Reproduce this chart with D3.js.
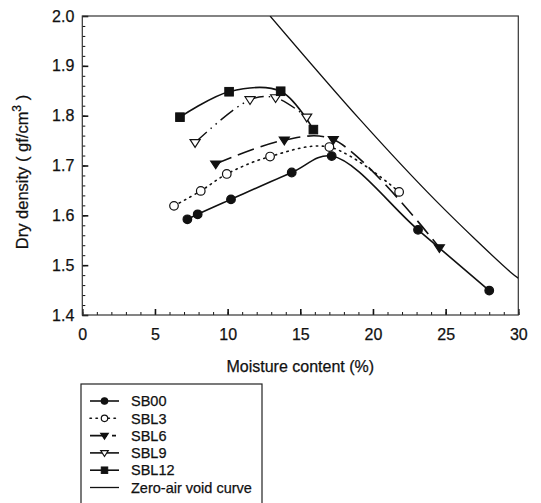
<!DOCTYPE html>
<html><head><meta charset="utf-8">
<script src="https://cdn.jsdelivr.net/npm/d3@7"></script>
<style>
body{margin:0;background:#fff}
svg{display:block;background:#fff}
text{font-family:"Liberation Sans",Arial,Helvetica,sans-serif;fill:#111;stroke:#111;stroke-width:0.25}
</style>
</head><body>
<svg id="c" width="541" height="503"></svg>
<script>
// ---- data ----
const moistureSB00 = [7.23, 7.94, 10.23, 14.41, 17.16, 23.1, 28.0];
const densitySB00  = [1.592, 1.602, 1.632, 1.686, 1.719, 1.571, 1.449];

const moistureSBL3 = [6.31, 8.15, 9.94, 12.92, 17.0, 21.8];
const densitySBL3  = [1.619, 1.649, 1.683, 1.718, 1.737, 1.647];

const moistureSBL6 = [9.18, 13.9, 17.27, 24.57];
const densitySBL6  = [1.703, 1.751, 1.752, 1.535];

const moistureSBL9 = [7.76, 11.54, 13.3, 15.44];
const densitySBL9  = [1.746, 1.832, 1.836, 1.797];

const moistureSBL12 = [6.72, 10.10, 13.65, 15.9];
const densitySBL12  = [1.797, 1.848, 1.849, 1.772];

const moistureZAV = [12.92, 19.11, 24.27, 29.43, 30.0];
const densityZAV  = [2.0, 1.792, 1.631, 1.487, 1.474];

const xTickLabels = [0, 5, 10, 15, 20, 25, 30];
const yTickLabels = [1.4, 1.5, 1.6, 1.7, 1.8, 1.9, 2.0];

const seriesNames = ["SB00", "SBL3", "SBL6", "SBL9", "SBL12", "Zero-air  void curve"];

// ---- chart ----
const svg = d3.select("#c");
const X0 = 82.3, X1 = 518.3, Y0 = 315, Y1 = 16;
const x = d3.scaleLinear().domain([0, 30]).range([X0, X1]);
const y = d3.scaleLinear().domain([1.4, 2.0]).range([Y0, Y1]);
const ink = "#111";
const FONT = '"Liberation Sans",Arial,sans-serif';

svg.append("defs").append("clipPath").attr("id", "clip")
  .append("rect").attr("x", X0).attr("y", Y1).attr("width", X1 - X0).attr("height", Y0 - Y1);

// minor ticks
svg.append("g").attr("transform", `translate(0,${Y0})`)
  .call(d3.axisBottom(x).tickValues(d3.range(0, 31, 1)).tickSize(-3).tickFormat(""))
  .call(g => g.select(".domain").remove())
  .call(g => g.selectAll("line").attr("stroke", ink).attr("stroke-width", 1));
svg.append("g").attr("transform", `translate(${X0},0)`)
  .call(d3.axisLeft(y).tickValues(d3.range(0, 31).map(i => 1.4 + i * 0.02)).tickSize(-3).tickFormat(""))
  .call(g => g.select(".domain").remove())
  .call(g => g.selectAll("line").attr("stroke", ink).attr("stroke-width", 1));

// major ticks + labels
svg.append("g").attr("transform", `translate(0,${Y0})`)
  .call(d3.axisBottom(x).tickValues(xTickLabels).tickSize(-6).tickPadding(14).tickFormat(d3.format("d")))
  .call(g => g.select(".domain").remove())
  .call(g => g.selectAll("line").attr("stroke", ink).attr("stroke-width", 1.6))
  .call(g => g.selectAll("text").attr("font-size", 16).attr("fill", ink).attr("font-family", FONT));
svg.append("g").attr("transform", `translate(${X0},0)`)
  .call(d3.axisLeft(y).tickValues(yTickLabels).tickSize(-6).tickPadding(8).tickFormat(d3.format(".1f")))
  .call(g => g.select(".domain").remove())
  .call(g => g.selectAll("line").attr("stroke", ink).attr("stroke-width", 1.6))
  .call(g => g.selectAll("text").attr("font-size", 16).attr("fill", ink).attr("font-family", FONT));

// frame
svg.append("rect").attr("x", X0).attr("y", Y1).attr("width", X1 - X0).attr("height", Y0 - Y1)
  .attr("fill", "none").attr("stroke", "#333").attr("stroke-width", 1.2);

// axis titles
svg.append("text").attr("x", (X0 + X1) / 2).attr("y", 372).attr("text-anchor", "middle")
  .attr("font-size", 16).text("Moisture content (%)");
const yt = svg.append("text").attr("transform", `translate(28,172) rotate(-90)`)
  .attr("text-anchor", "middle").attr("font-size", 16.5);
yt.append("tspan").text("Dry density ( gf/cm");
yt.append("tspan").attr("font-size", 12).attr("dy", -7).text("3");
yt.append("tspan").attr("dy", 7).text(" )");

const zip = (a, b) => a.map((v, i) => [v, b[i]]);
const line = d3.line().x(d => x(d[0])).y(d => y(d[1])).curve(d3.curveCatmullRom.alpha(0.5));

const styles = [
  {data: zip(moistureSB00, densitySB00), dash: null, w: 1.6, marker: "circle", fill: ink},
  {data: zip(moistureSBL3, densitySBL3), dash: "1.4 4.6", w: 1.6, marker: "circle", fill: "#fff", cap: "round"},
  {data: zip(moistureSBL6, densitySBL6), dash: "17 7", w: 1.6, marker: "tri", fill: ink},
  {data: zip(moistureSBL9, densitySBL9), dash: "16 5 1.5 5 1.5 5", w: 1.4, marker: "tri", fill: "#fff"},
  {data: zip(moistureSBL12, densitySBL12), dash: null, w: 1.6, marker: "square", fill: ink},
  {data: zip(moistureZAV, densityZAV), dash: null, w: 1.3, marker: null}
];

const plot = svg.append("g").attr("clip-path", "url(#clip)");
styles.forEach(s => {
  plot.append("path").attr("d", line(s.data)).attr("fill", "none").attr("stroke", ink)
    .attr("stroke-width", s.w).attr("stroke-dasharray", s.dash)
    .attr("stroke-linecap", s.cap || "butt");
});

function drawMarker(g, type, cx, cy, fill, scale) {
  const k = scale || 1;
  if (type === "circle") {
    g.append("circle").attr("cx", cx).attr("cy", cy).attr("r", 4.3 * k)
      .attr("fill", fill).attr("stroke", ink).attr("stroke-width", 1.2);
  } else if (type === "square") {
    g.append("rect").attr("x", cx - 4.3 * k).attr("y", cy - 4.3 * k).attr("width", 8.6 * k).attr("height", 8.6 * k)
      .attr("fill", fill).attr("stroke", ink).attr("stroke-width", 1);
  } else if (type === "tri") {
    const r = 5 * k;
    g.append("path").attr("d", `M${cx - r},${cy - r * 0.6}L${cx + r},${cy - r * 0.6}L${cx},${cy + r * 0.95}Z`)
      .attr("fill", fill).attr("stroke", ink).attr("stroke-width", 1.2);
  }
}
const mk = svg.append("g");
styles.forEach(s => {
  if (!s.marker) return;
  s.data.forEach(d => drawMarker(mk, s.marker, x(d[0]), y(d[1]), s.fill));
});

// legend
const lg = svg.append("g");
lg.append("rect").attr("x", 81).attr("y", 384).attr("width", 181).attr("height", 140)
  .attr("fill", "#fff").attr("stroke", "#222").attr("stroke-width", 1.2);
styles.forEach((s, i) => {
  const cy = 401 + i * 17.3;
  lg.append("line").attr("x1", 90).attr("x2", 119).attr("y1", cy).attr("y2", cy)
    .attr("stroke", ink).attr("stroke-width", s.marker ? 1.6 : 1.3)
    .attr("stroke-dasharray", i === 1 ? "1.4 4.6" : i === 2 ? "17 5 4 10" : null)
    .attr("stroke-linecap", i === 1 ? "round" : "butt");
  if (s.marker) drawMarker(lg, s.marker, 104.5, cy, s.fill, 0.75);
  lg.append("text").attr("x", 131).attr("y", cy).attr("dy", "0.36em").attr("font-size", 14.5)
    .text(seriesNames[i]);
});
</script>
</body></html>
